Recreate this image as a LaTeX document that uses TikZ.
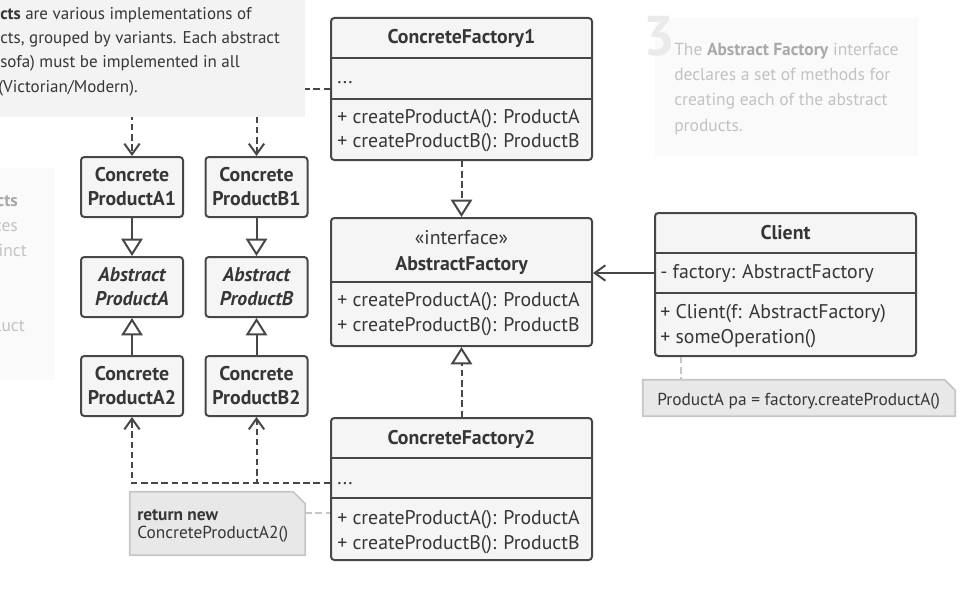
\documentclass[tikz,border=0pt]{standalone}
\usepackage{fontspec}
\setmainfont{PT Sans}
\usetikzlibrary{arrows.meta,fit}
\definecolor{LineClr}{HTML}{474747}
\definecolor{BoxClr}{HTML}{F5F5F5}
\definecolor{TextClr}{HTML}{363636}
\definecolor{NoteClr}{HTML}{E8E8E8}
\definecolor{NoteEdge}{HTML}{C6C6C6}
\definecolor{PanelClr}{HTML}{F3F3F3}
\definecolor{FadeClr}{HTML}{FAFAFA}
\definecolor{FadeText}{HTML}{C2C2C2}
\definecolor{FadeBold}{HTML}{A9A9A9}
\definecolor{FadeNum}{HTML}{EAEAEA}

\begin{document}
\begin{tikzpicture}[x=0.75pt,y=-0.75pt,
  font=\fontsize{14.85}{18}\selectfont,text=TextClr,
  classbox/.style={draw=LineClr,fill=BoxClr,line width=1.5pt,rounded corners=2.5pt,inner sep=0pt},
  prodbox/.style={classbox,minimum width=76.5pt,minimum height=45pt,align=center,
    font=\fontsize{14.85}{18}\selectfont\bfseries},
  abstrbox/.style={prodbox,font=\fontsize{14.85}{18}\selectfont\bfseries\itshape},
  sep/.style={draw=LineClr,line width=1.5pt},
  txt/.style={anchor=base west,inner sep=0pt},
  title/.style={anchor=base,inner sep=0pt,font=\fontsize{14.85}{18}\selectfont\bfseries},
  small/.style={txt,font=\fontsize{13}{15}\selectfont},
  panel/.style={txt,font=\fontsize{12.75}{15}\selectfont},
  faded/.style={inner sep=0pt,text=FadeText,font=\fontsize{13.1}{15}\selectfont},
  dep/.style={draw=LineClr,line width=1.5pt,dash pattern=on 4.8pt off 2.8pt,
    -{Straight Barb[length=8pt,width=11.5pt]}},
  realize/.style={dep,-{Triangle[length=13pt,width=16pt,fill=white]}},
  inherit/.style={draw=LineClr,line width=1.5pt,-{Triangle[length=13pt,width=16pt,fill=white]}},
  assoc/.style={draw=LineClr,line width=1.5pt,-{Straight Barb[length=8pt,width=11.5pt]}},
  noteline/.style={draw=NoteEdge,line width=1.5pt,dash pattern=on 4.8pt off 2.8pt},
  note/.style={fill=NoteClr,draw=NoteEdge,line width=1.2pt}]
\useasboundingbox (0,0) rectangle (978,592);

% faded side panels
\fill[FadeClr] (0,168) rectangle (55,380);
\node[faded,anchor=base east,text=FadeBold,font=\fontsize{13.1}{15}\selectfont\bfseries] at (18,206) {cts};
\node[faded,anchor=base east] at (18,231) {ces};
\node[faded,anchor=base east] at (27,256) {inct};
\node[faded,anchor=base east] at (25,331) {luct};

\fill[FadeClr] (655,18) rectangle (918,156);
\node[anchor=base west,inner sep=0pt,text=FadeNum,font=\fontsize{42}{42}\selectfont\bfseries] at (643,56) {3};
\node[faded,anchor=base west] at (674,56) {The \textcolor{FadeBold}{\textbf{Abstract Factory}} interface};
\node[faded,anchor=base west] at (674,81) {declares a set of methods for};
\node[faded,anchor=base west] at (674,106) {creating each of the abstract};
\node[faded,anchor=base west] at (674,131) {products.};

% products
\node[prodbox] (cpa1) at (132,187) {Concrete\\ProductA1};
\node[prodbox] (cpb1) at (256.5,187) {Concrete\\ProductB1};
\node[abstrbox] (apa) at (132,287) {Abstract\\ProductA};
\node[abstrbox] (apb) at (256.5,287) {Abstract\\ProductB};
\node[prodbox] (cpa2) at (132,386) {Concrete\\ProductA2};
\node[prodbox] (cpb2) at (256.5,386) {Concrete\\ProductB2};

% ConcreteFactory1
\node[classbox,fit={(331,18) (592,160)}] (cf1) {};
\draw[sep] (331,58) -- (592,58) (331,99) -- (592,99);
\node[title] at (461.5,44) {ConcreteFactory1};
\node[txt] (cf1f) at (337,84) {...};
\node[txt] at (337,123) {+ createProductA(): ProductA};
\node[txt] at (337,147) {+ createProductB(): ProductB};

% AbstractFactory
\node[classbox,fit={(331,218) (592,346)}] (af) {};
\draw[sep] (331,282) -- (592,282);
\node[anchor=base,inner sep=0pt] at (461.5,244) {«interface»};
\node[title] at (461.5,270) {AbstractFactory};
\node[txt] at (337,306) {+ createProductA(): ProductA};
\node[txt] at (337,331) {+ createProductB(): ProductB};

% ConcreteFactory2
\node[classbox,fit={(331,418) (592,560)}] (cf2) {};
\draw[sep] (331,458) -- (592,458) (331,498) -- (592,498);
\node[title] at (461.5,444) {ConcreteFactory2};
\node[txt] (cf2f) at (337,484) {...};
\node[txt] at (337,524) {+ createProductA(): ProductA};
\node[txt] at (337,549) {+ createProductB(): ProductB};

% Client
\node[classbox,fit={(655,213) (916,356)}] (cl) {};
\draw[sep] (655,253) -- (916,253) (655,293) -- (916,293);
\node[title] at (785.5,239) {Client};
\node[txt] (clf) at (660,278) {- factory: AbstractFactory};
\node[txt] at (660,318) {+ Client(f: AbstractFactory)};
\node[txt] at (660,343) {+ someOperation()};

% connectors
\draw[dep] (cf1.west) -| (cpa1);
\draw[dep] (cf1.west) -| (cpb1);
\draw[dep] (cf2.west |- cf2f) -| (cpa2);
\draw[dep] (cf2.west |- cf2f) -| (cpb2);
\draw[realize] (cf1) -- (af);
\draw[realize] (cf2) -- (af);
\draw[inherit] (cpa1) -- (apa);
\draw[inherit] (cpb1) -- (apb);
\draw[inherit] (cpa2) -- (apa);
\draw[inherit] (cpb2) -- (apb);
\draw[assoc] (cl.west |- clf) -- (af.east |- clf);

% top-left panel
\fill[PanelClr] (0,0) rectangle (305,117);
\node[panel] at (0,20) {\textbf{cts} are various implementations of};
\node[panel] at (0,44) {cts, grouped by variants. Each abstract};
\node[panel] at (0,68) {sofa) must be implemented in all};
\node[panel] at (-2,93) {(Victorian/Modern).};

% notes
\node[fit={(643,380) (955,416)},inner sep=0pt] (n1) {};
\path[note] (n1.south west) -- (n1.north west) -- ([xshift=-8pt]n1.north east)
  -- ([yshift=-8pt]n1.north east) -- (n1.south east) -- cycle;
\node[small] at (657,405) {ProductA pa = factory.createProductA()};
\draw[noteline] ([xshift=20pt]cl.south west) -- ([xshift=20pt]cl.south west |- n1.north);

\node[fit={(130,492) (305,555)},inner sep=0pt] (n2) {};
\path[note] (n2.south west) -- (n2.north west) -- ([xshift=-9pt]n2.north east)
  -- ([yshift=-9pt]n2.north east) -- (n2.south east) -- cycle;
\node[small] at (137,520) {\textbf{return new}};
\node[small] at (137,538) {ConcreteProductA2()};
\draw[noteline] ([yshift=8pt]n2.east) -- ([yshift=8pt]n2.east -| cf2.west);

\end{tikzpicture}
\end{document}
